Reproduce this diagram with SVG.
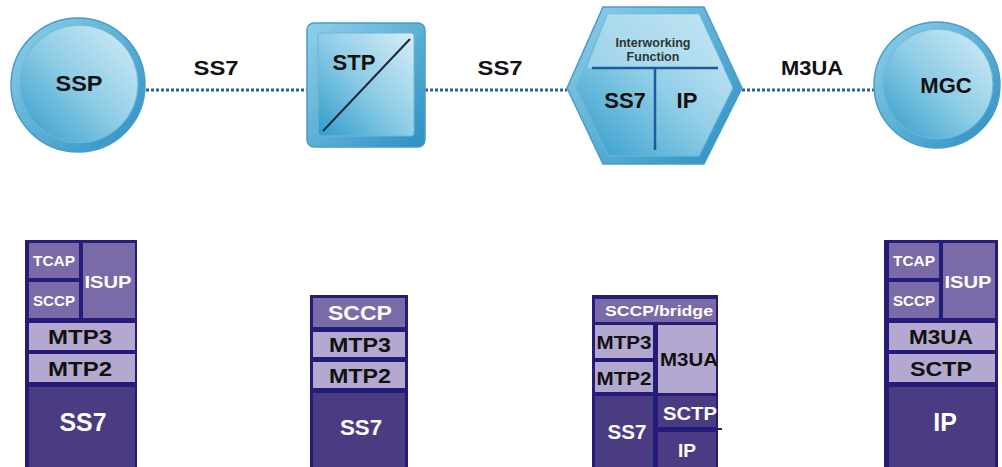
<svg xmlns="http://www.w3.org/2000/svg" width="1002" height="467" viewBox="0 0 1002 467">
<defs>
<linearGradient id="g" x1="1" y1="0" x2="0" y2="1">
<stop offset="0" stop-color="#d6eef7"/>
<stop offset="0.5" stop-color="#8fcde6"/>
<stop offset="1" stop-color="#2f9ccb"/>
</linearGradient>
<linearGradient id="gr" x1="0" y1="0" x2="1" y2="1">
<stop offset="0" stop-color="#8fd0ea"/>
<stop offset="1" stop-color="#2b8fc2"/>
</linearGradient>
<style>
.ring{fill:url(#gr);stroke:#4a9cc8;stroke-width:1.5}
.in{fill:url(#g);stroke:#6fb7d8;stroke-width:1}
.lbl{font-family:"Liberation Sans",Arial,sans-serif;font-weight:bold;fill:#111;text-anchor:middle}
.st{font-family:"Liberation Sans",Arial,sans-serif;font-weight:bold;text-anchor:middle}
.w{fill:#fff}
.k{fill:#111}
.frame{fill:#241c78}
.m{fill:#7a6aa8}
.l{fill:#b4a8d0}
.d{fill:#4a3b82}
.dot{stroke:#2a5fa8;stroke-width:3;stroke-dasharray:3 2;fill:none}
</style>
</defs>
<g id="connectors">
<line class="dot" x1="146" y1="90" x2="307" y2="90"/>
<line class="dot" x1="425" y1="90" x2="567" y2="90"/>
<line class="dot" x1="742" y1="90" x2="876" y2="90"/>
<text class="lbl" x="216" y="75" font-size="20" textLength="45" lengthAdjust="spacingAndGlyphs">SS7</text>
<text class="lbl" x="500" y="75" font-size="20" textLength="45" lengthAdjust="spacingAndGlyphs">SS7</text>
<text class="lbl" x="812" y="75" font-size="20" textLength="62" lengthAdjust="spacingAndGlyphs">M3UA</text>
</g>
<g id="SSP">
<circle class="ring" cx="78" cy="85" r="67"/>
<circle class="in" cx="79" cy="84" r="59"/>
<text class="lbl" x="79" y="91" font-size="22" textLength="47" lengthAdjust="spacingAndGlyphs">SSP</text>
</g>
<g id="STP">
<rect class="ring" x="307" y="23" width="118" height="124" rx="7"/>
<rect class="in" x="318" y="33" width="96" height="103" rx="3"/>
<line x1="323" y1="131" x2="410" y2="39" stroke="#1a2a3a" stroke-width="2"/>
<text class="lbl" x="354" y="70" font-size="22">STP</text>
</g>
<g id="IWF">
<polygon class="ring" points="603,7 704,7 742,88 704,164 603,164 567,88"/>
<polygon class="in" points="608,14 699,14 733,88 699,156 608,156 576,88"/>
<polygon points="608,14 699,14 724,68 587,68" fill="#b6e0f0" opacity="0.6"/>
<line x1="592" y1="68" x2="718" y2="68" stroke="#1f5a9e" stroke-width="2.5"/>
<line x1="655" y1="68" x2="655" y2="150" stroke="#1f5a9e" stroke-width="2.5"/>
<text class="lbl" x="653" y="47" font-size="12.5" fill="#333" textLength="75" lengthAdjust="spacingAndGlyphs" style="fill:#333">Interworking</text>
<text class="lbl" x="653" y="61" font-size="12.5" style="fill:#333">Function</text>
<text class="lbl" x="625" y="108" font-size="22">SS7</text>
<text class="lbl" x="687" y="108" font-size="22">IP</text>
</g>
<g id="MGC">
<circle class="ring" cx="937" cy="85" r="63"/>
<circle class="in" cx="938" cy="84" r="55"/>
<text class="lbl" x="946" y="93" font-size="22">MGC</text>
</g>
<g id="stack-SSP">
<rect class="frame" x="25" y="240" width="112" height="227"/>
<rect class="m" x="29" y="243" width="50" height="35"/>
<rect class="m" x="29" y="282" width="50" height="36"/>
<rect class="m" x="83" y="243" width="52" height="75"/>
<rect class="l" x="29" y="323" width="106" height="27"/>
<rect class="l" x="29" y="354" width="106" height="28"/>
<rect class="d" x="29" y="387" width="106" height="80"/>
<text class="st w" x="54" y="266" font-size="14" textLength="42" lengthAdjust="spacingAndGlyphs">TCAP</text>
<text class="st w" x="54" y="306" font-size="14" textLength="42" lengthAdjust="spacingAndGlyphs">SCCP</text>
<text class="st w" x="108" y="288" font-size="17" textLength="47" lengthAdjust="spacingAndGlyphs">ISUP</text>
<text class="st k" x="80" y="344" font-size="21" textLength="64" lengthAdjust="spacingAndGlyphs">MTP3</text>
<text class="st k" x="80" y="376" font-size="21" textLength="64" lengthAdjust="spacingAndGlyphs">MTP2</text>
<text class="st w" x="83" y="431" font-size="25" textLength="47" lengthAdjust="spacingAndGlyphs">SS7</text>
</g>
<g id="stack-STP">
<rect class="frame" x="310" y="295" width="98" height="172"/>
<rect class="m" x="313" y="298" width="92" height="29"/>
<rect class="l" x="313" y="332" width="92" height="25"/>
<rect class="l" x="313" y="362" width="92" height="26"/>
<rect class="d" x="313" y="393" width="92" height="74"/>
<text class="st w" x="360" y="320" font-size="21" textLength="64" lengthAdjust="spacingAndGlyphs">SCCP</text>
<text class="st k" x="360" y="352" font-size="20" textLength="62" lengthAdjust="spacingAndGlyphs">MTP3</text>
<text class="st k" x="360" y="383" font-size="20" textLength="62" lengthAdjust="spacingAndGlyphs">MTP2</text>
<text class="st w" x="361" y="435" font-size="22" textLength="42" lengthAdjust="spacingAndGlyphs">SS7</text>
</g>
<g id="stack-IWF">
<rect class="frame" x="592" y="295" width="126" height="172"/>
<rect class="m" x="595" y="299" width="121" height="23"/>
<rect class="l" x="595" y="325" width="58" height="33"/>
<rect class="l" x="595" y="362" width="58" height="30"/>
<rect class="l" x="658" y="325" width="58" height="68"/>
<rect class="d" x="595" y="396" width="58" height="71"/>
<rect class="d" x="658" y="396" width="58" height="31"/>
<rect class="d" x="658" y="432" width="58" height="35"/>
<line x1="716" y1="429" x2="722" y2="429" stroke="#241c78" stroke-width="2"/>
<text class="st w" x="659" y="316" font-size="15" textLength="108" lengthAdjust="spacingAndGlyphs">SCCP/bridge</text>
<text class="st k" x="624" y="349" font-size="19" textLength="55" lengthAdjust="spacingAndGlyphs">MTP3</text>
<text class="st k" x="624" y="385" font-size="19" textLength="55" lengthAdjust="spacingAndGlyphs">MTP2</text>
<text class="st k" x="689" y="366" font-size="19" textLength="58" lengthAdjust="spacingAndGlyphs">M3UA</text>
<text class="st w" x="627" y="439" font-size="20" textLength="39" lengthAdjust="spacingAndGlyphs">SS7</text>
<text class="st w" x="690" y="420" font-size="19" textLength="54" lengthAdjust="spacingAndGlyphs">SCTP</text>
<text class="st w" x="687" y="457" font-size="19">IP</text>
</g>
<g id="stack-MGC">
<rect class="frame" x="884" y="240" width="114" height="227"/>
<rect class="m" x="889" y="243" width="50" height="35"/>
<rect class="m" x="889" y="282" width="50" height="36"/>
<rect class="m" x="943" y="243" width="52" height="75"/>
<rect class="l" x="889" y="323" width="106" height="27"/>
<rect class="l" x="889" y="354" width="106" height="28"/>
<rect class="d" x="889" y="387" width="106" height="80"/>
<text class="st w" x="914" y="266" font-size="14" textLength="42" lengthAdjust="spacingAndGlyphs">TCAP</text>
<text class="st w" x="914" y="306" font-size="14" textLength="42" lengthAdjust="spacingAndGlyphs">SCCP</text>
<text class="st w" x="968" y="288" font-size="17" textLength="47" lengthAdjust="spacingAndGlyphs">ISUP</text>
<text class="st k" x="941" y="344" font-size="21" textLength="64" lengthAdjust="spacingAndGlyphs">M3UA</text>
<text class="st k" x="941" y="376" font-size="21" textLength="62" lengthAdjust="spacingAndGlyphs">SCTP</text>
<text class="st w" x="945" y="431" font-size="25">IP</text>
</g>
</svg>
